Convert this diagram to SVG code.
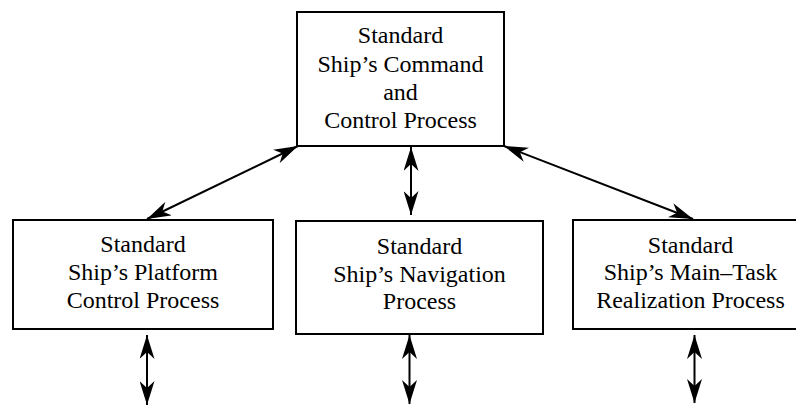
<svg xmlns="http://www.w3.org/2000/svg" width="796" height="407" viewBox="0 0 796 407">
<style>
.box{fill:#fff;stroke:#000;stroke-width:2}
.lbl{font-size:24px;fill:#000;text-anchor:middle}
.con{stroke:#000;stroke-width:2;fill:none;marker-start:url(#ah);marker-end:url(#ah)}
</style>
<defs>
<marker id="ah" viewBox="0 0 24 15" refX="24" refY="7.5" markerWidth="24" markerHeight="15" markerUnits="userSpaceOnUse" orient="auto-start-reverse">
<path d="M24,7.5 L0,0 L7,7.5 L0,15 Z" fill="#000"/>
</marker>
</defs>
<rect width="796" height="407" fill="#fff"/>
<g font-family="'Liberation Serif', 'DejaVu Serif', serif">
<g id="command">
<rect class="box" x="297" y="12" width="207" height="134"/>
<text class="lbl" x="400.5" y="43">Standard</text>
<text class="lbl" x="400.5" y="72">Ship’s Command</text>
<text class="lbl" x="400.5" y="100">and</text>
<text class="lbl" x="400.5" y="128">Control Process</text>
</g>
<g id="platform">
<rect class="box" x="13" y="220" width="260" height="109"/>
<text class="lbl" x="143" y="252">Standard</text>
<text class="lbl" x="143" y="279.5">Ship’s Platform</text>
<text class="lbl" x="143" y="307.5">Control Process</text>
</g>
<g id="navigation">
<rect class="box" x="296" y="221" width="247" height="113"/>
<text class="lbl" x="419.5" y="253.5">Standard</text>
<text class="lbl" x="419.5" y="281.5">Ship’s Navigation</text>
<text class="lbl" x="419.5" y="308.5">Process</text>
</g>
<g id="maintask">
<rect class="box" x="573" y="220" width="236" height="109"/>
<text class="lbl" x="690.5" y="252.5">Standard</text>
<text class="lbl" x="690.5" y="279.5">Ship’s Main–Task</text>
<text class="lbl" x="690.5" y="307.5">Realization Process</text>
</g>
</g>
<g id="connectors">
<line class="con" x1="298" y1="146" x2="147" y2="219"/>
<line class="con" x1="504" y1="146" x2="693" y2="219"/>
<line class="con" x1="411" y1="147" x2="411" y2="215"/>
<line class="con" x1="147" y1="335" x2="147" y2="405"/>
<line class="con" x1="409.5" y1="335" x2="409.5" y2="404"/>
<line class="con" x1="694.5" y1="335" x2="694.5" y2="403"/>
</g>
</svg>
